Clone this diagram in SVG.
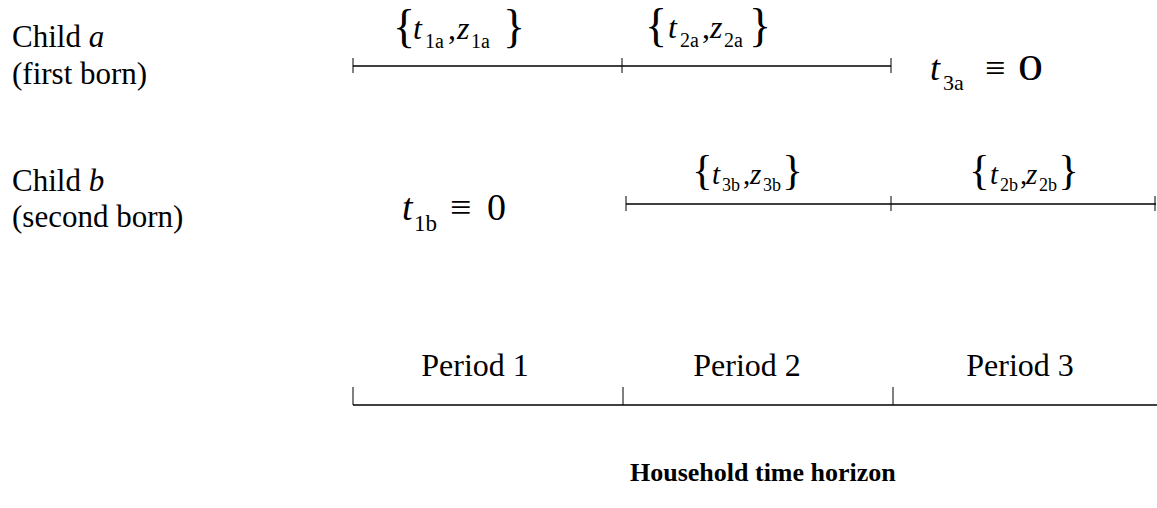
<svg xmlns="http://www.w3.org/2000/svg" width="1157" height="508" viewBox="0 0 1157 508">
<style>
text{font-family:"Liberation Serif","Times New Roman",serif;fill:#000}
.lbl{font-size:31px}
.per{font-size:32px}
.it{font-style:italic}
.br{font-size:46px}
.v{font-size:32px}
.s{font-size:20px}
.br2{font-size:43px}
.v2{font-size:29px}
.s2{font-size:18px}
.ax{stroke:#000;stroke-width:1.3;fill:none}
.tk{stroke:#000;stroke-width:1;fill:none}
</style>
<rect width="1157" height="508" fill="#fff"/>
<g id="childA-label">
<text class="lbl" x="12" y="47">Child <tspan class="it">a</tspan></text>
<text class="lbl" x="12" y="84">(first born)</text>
</g>
<g id="childB-label">
<text class="lbl" x="12" y="191">Child <tspan class="it">b</tspan></text>
<text class="lbl" x="12" y="227">(second born)</text>
</g>
<g id="connectors">
<path class="ax" d="M353,66H891"/>
<path class="tk" d="M353,58V73M622,58V73M891,58V73"/>
<path class="ax" d="M626,204H1156"/>
<path class="tk" d="M626,196V211M891,196V211M1155,196V211"/>
<path class="ax" d="M353,405H1157"/>
<path class="tk" d="M353,387V405M623,387V405M893,387V405"/>
</g>
<g id="set-1a">
<text class="br" x="393" y="42">{</text>
<text class="v it" x="413" y="39">t</text>
<text class="s" x="425" y="48">1a</text>
<text class="v" x="448" y="39">,</text>
<text class="v it" x="457" y="39">z</text>
<text class="s" x="471" y="48">1a</text>
<text class="br" x="525" y="42" text-anchor="end">}</text>
</g>
<g id="set-2a">
<text class="br" x="645" y="41">{</text>
<text class="v it" x="668" y="38">t</text>
<text class="s" x="680" y="47">2a</text>
<text class="v" x="702" y="38">,</text>
<text class="v it" x="710" y="38">z</text>
<text class="s" x="724" y="47">2a</text>
<text class="br" x="771" y="41" text-anchor="end">}</text>
</g>
<g id="t3a">
<text x="930" y="80" font-size="36" class="it">t</text>
<text x="943" y="90" font-size="22">3a</text>
<text x="985" y="80" font-size="36">≡</text>
<text x="1018" y="80" font-size="36" textLength="25" lengthAdjust="spacingAndGlyphs">0</text>
</g>
<g id="t1b">
<text x="402" y="220" font-size="38" class="it">t</text>
<text x="414" y="231" font-size="23">1b</text>
<text x="450" y="220" font-size="38">≡</text>
<text x="487" y="220" font-size="38">0</text>
</g>
<g id="set-3b">
<text class="br2" x="692" y="184">{</text>
<text class="v2 it" x="712" y="184">t</text>
<text class="s2" x="722" y="191">3b</text>
<text class="v2" x="743" y="184">,</text>
<text class="v2 it" x="750" y="184">z</text>
<text class="s2" x="763" y="191">3b</text>
<text class="br2" x="803" y="184" text-anchor="end">}</text>
</g>
<g id="set-2b">
<text class="br2" x="969" y="184">{</text>
<text class="v2 it" x="990" y="184">t</text>
<text class="s2" x="1000" y="191">2b</text>
<text class="v2" x="1020" y="184">,</text>
<text class="v2 it" x="1026" y="184">z</text>
<text class="s2" x="1039" y="191">2b</text>
<text class="br2" x="1079" y="184" text-anchor="end">}</text>
</g>
<g id="periods">
<text class="per" x="475" y="376" text-anchor="middle">Period 1</text>
<text class="per" x="747" y="376" text-anchor="middle">Period 2</text>
<text class="per" x="1020" y="376" text-anchor="middle">Period 3</text>
</g>
<g id="horizon">
<text x="630" y="481" font-size="26" font-weight="bold">Household time horizon</text>
</g>
</svg>
